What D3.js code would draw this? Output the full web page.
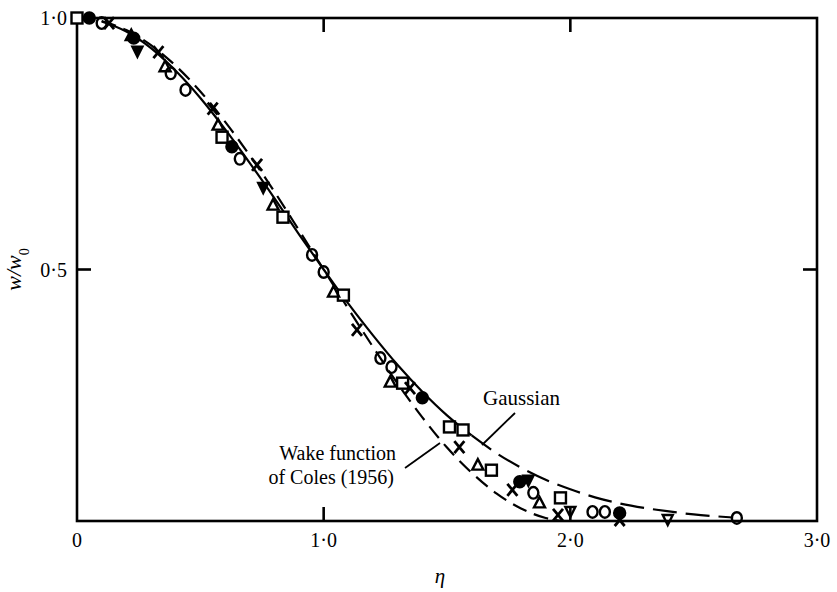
<!DOCTYPE html>
<html>
<head>
<meta charset="utf-8">
<script src="https://cdn.jsdelivr.net/npm/d3@7"></script>
<style>
  body { margin: 0; background: #fff; }
  svg text { font-family: "Liberation Serif", "DejaVu Serif", serif; fill: #000; }
  .axisline { fill: none; stroke: #000; stroke-width: 2.6; }
  .curve { fill: none; stroke: #000; stroke-width: 2.2; }
  .mark { fill: none; stroke: #000; stroke-width: 2.4; }
</style>
</head>
<body>
<svg id="chart"></svg>
<script>
// data: eta, w/w0
var openCircles = [[0.10, 0.99], [0.38, 0.89], [0.44, 0.857], [0.66, 0.72], [0.953, 0.529], [1.0, 0.495],
    [1.23, 0.324], [1.275, 0.306], [1.85, 0.056], [2.09, 0.018], [2.14, 0.018], [2.675, 0.006]];
var filledCircles = [[0.05, 1.0], [0.23, 0.96], [0.628, 0.744], [1.40, 0.245], [1.795, 0.078], [2.2, 0.016]];
var squares = [[0.0, 1.0], [0.588, 0.763], [0.835, 0.604], [1.08, 0.449], [1.32, 0.274], [1.51, 0.187],
    [1.565, 0.181], [1.68, 0.101], [1.96, 0.046]];
var triangles = [[0.22, 0.965], [0.357, 0.903], [0.572, 0.787], [0.795, 0.628], [1.04, 0.455], [1.27, 0.276],
    [1.625, 0.111], [1.875, 0.036]];
var filledInvTriangles = [[0.245, 0.935], [0.755, 0.664], [1.83, 0.082]];
var invTriangles = [[2.0, 0.02], [2.395, 0.004]];
var crosses = [[0.13, 0.99], [0.33, 0.932], [0.55, 0.82], [0.73, 0.708], [1.135, 0.38], [1.35, 0.264],
    [1.55, 0.147], [1.765, 0.062], [1.95, 0.012], [2.2, 0.002]];

// curves
var gaussSolid = [[0.1, 0.993], [0.2, 0.973], [0.3, 0.94], [0.4, 0.895], [0.5, 0.841], [0.6, 0.779], [0.7, 0.712],
    [0.8, 0.642], [0.9, 0.57], [1.0, 0.5], [1.1, 0.432], [1.2, 0.369], [1.3, 0.31], [1.4, 0.257], [1.5, 0.21], [1.6, 0.17]];
var gaussDashed = [[1.6, 0.17], [1.7, 0.135], [1.8, 0.106], [1.9, 0.082], [2.0, 0.063], [2.1, 0.047], [2.2, 0.035],
    [2.3, 0.026], [2.4, 0.019], [2.5, 0.013], [2.6, 0.009], [2.66, 0.007]];
var colesCurve = [[0.1, 0.994], [0.2, 0.976], [0.3, 0.946], [0.4, 0.905], [0.5, 0.854], [0.6, 0.794], [0.7, 0.727],
    [0.8, 0.655], [0.9, 0.578], [1.0, 0.5], [1.1, 0.422], [1.2, 0.346], [1.3, 0.273], [1.4, 0.206], [1.5, 0.146],
    [1.6, 0.096], [1.7, 0.055], [1.8, 0.025], [1.9, 0.006], [1.97, 0.0]];

var xTicks = [0, 1, 2, 3];
var xTickLabels = ["0", "1·0", "2·0", "3·0"];
var yTicks = [0.5, 1.0];
var yTickLabels = ["0·5", "1·0"];

// size of the page
const W = 837, H = 592;
const margin = {left: 77, right: 20, top: 18, bottom: 71};
const width = W - margin.left - margin.right;
const height = H - margin.top - margin.bottom;

var xScale = d3.scaleLinear().domain([0, 3]).range([0, width]);
var yScale = d3.scaleLinear().domain([0, 1]).range([height, 0]);

var svg = d3.select("#chart").attr("width", W).attr("height", H);
var g = svg.append("g").attr("transform", "translate(" + margin.left + "," + margin.top + ")");

var line = d3.line()
    .x(function (d) { return xScale(d[0]); })
    .y(function (d) { return yScale(d[1]); })
    .curve(d3.curveMonotoneX);

// curves
g.append("path").datum(gaussSolid).attr("class", "curve").attr("d", line);
g.append("path").datum(gaussDashed).attr("class", "curve")
    .attr("stroke-dasharray", "24,9").attr("d", line);
g.append("path").datum(colesCurve).attr("class", "curve")
    .attr("stroke-dasharray", "15,8").attr("d", line);

// frame
g.append("rect").attr("class", "axisline")
    .attr("x", 0).attr("y", 0).attr("width", width).attr("height", height);

// inward ticks on all four sides
var tickLen = 14;
[1, 2].forEach(function (t) {
    g.append("line").attr("class", "axisline")
        .attr("x1", xScale(t)).attr("x2", xScale(t)).attr("y1", height).attr("y2", height - tickLen);
    g.append("line").attr("class", "axisline")
        .attr("x1", xScale(t)).attr("x2", xScale(t)).attr("y1", 0).attr("y2", tickLen);
});
g.append("line").attr("class", "axisline")
    .attr("x1", 0).attr("x2", tickLen).attr("y1", yScale(0.5)).attr("y2", yScale(0.5));
g.append("line").attr("class", "axisline")
    .attr("x1", width).attr("x2", width - tickLen).attr("y1", yScale(0.5)).attr("y2", yScale(0.5));

// tick labels
g.selectAll(".xlab").data(xTicks).enter().append("text")
    .attr("x", function (d) { return xScale(d); })
    .attr("y", height + 26)
    .attr("text-anchor", "middle")
    .style("font-size", "20px")
    .text(function (d, i) { return xTickLabels[i]; });

g.selectAll(".ylab").data(yTicks).enter().append("text")
    .attr("x", -10)
    .attr("y", function (d) { return yScale(d) + 7; })
    .attr("text-anchor", "end")
    .style("font-size", "20px")
    .text(function (d, i) { return yTickLabels[i]; });

// axis titles
g.append("text")
    .attr("x", xScale(1.5) - 7).attr("y", height + 62)
    .attr("text-anchor", "middle")
    .style("font-size", "21px").style("font-style", "italic")
    .text("η");

var yt = g.append("text")
    .attr("transform", "translate(" + (-56) + "," + yScale(0.5) + ") rotate(-90)")
    .attr("text-anchor", "middle")
    .style("font-size", "22px").style("font-style", "italic");
yt.append("tspan").text("w/w");
yt.append("tspan").attr("baseline-shift", "sub").style("font-size", "14px").style("font-style", "normal").text("0");

// markers
function px(d) { return xScale(d[0]); }
function py(d) { return yScale(d[1]); }
function at(d) { return "translate(" + px(d) + "," + py(d) + ")"; }

g.selectAll(".oc").data(openCircles).enter().append("ellipse")
    .attr("class", "mark").attr("cx", px).attr("cy", py).attr("rx", 5).attr("ry", 5.8);
g.selectAll(".fc").data(filledCircles).enter().append("circle")
    .attr("class", "mark").style("fill", "#000").attr("cx", px).attr("cy", py).attr("r", 5.5);
g.selectAll(".sq").data(squares).enter().append("rect")
    .attr("class", "mark").style("fill", "#fff")
    .attr("x", function (d) { return px(d) - 5.5; }).attr("y", function (d) { return py(d) - 5.5; })
    .attr("width", 11).attr("height", 11);
g.selectAll(".tr").data(triangles).enter().append("path")
    .attr("class", "mark").attr("transform", at)
    .attr("d", "M0,-6L5.5,4.5L-5.5,4.5Z");
g.selectAll(".fit").data(filledInvTriangles).enter().append("path")
    .attr("class", "mark").style("fill", "#000").attr("transform", at)
    .attr("d", "M0,6L5,-4L-5,-4Z");
g.selectAll(".it").data(invTriangles).enter().append("path")
    .attr("class", "mark").attr("transform", at)
    .attr("d", "M0,6L5,-4L-5,-4Z");
g.selectAll(".cr").data(crosses).enter().append("path")
    .attr("class", "mark").style("stroke-width", 2.8).attr("transform", at)
    .attr("d", "M-5,-6L5,6M5,-6L-5,6");

// annotations
g.append("text").attr("x", 483 - margin.left).attr("y", 405 - margin.top)
    .style("font-size", "21px").text("Gaussian");
g.append("line").attr("class", "curve").style("stroke-width", 1.8)
    .attr("x1", 515 - margin.left).attr("y1", 413 - margin.top)
    .attr("x2", 482 - margin.left).attr("y2", 445 - margin.top);

g.append("text").attr("x", 396 - margin.left).attr("y", 460 - margin.top)
    .attr("text-anchor", "end").style("font-size", "20px").text("Wake function");
g.append("text").attr("x", 394 - margin.left).attr("y", 484 - margin.top)
    .attr("text-anchor", "end").style("font-size", "20px").text("of Coles (1956)");
g.append("line").attr("class", "curve").style("stroke-width", 1.8)
    .attr("x1", 405 - margin.left).attr("y1", 468 - margin.top)
    .attr("x2", 440 - margin.left).attr("y2", 443 - margin.top);
</script>
</body>
</html>
